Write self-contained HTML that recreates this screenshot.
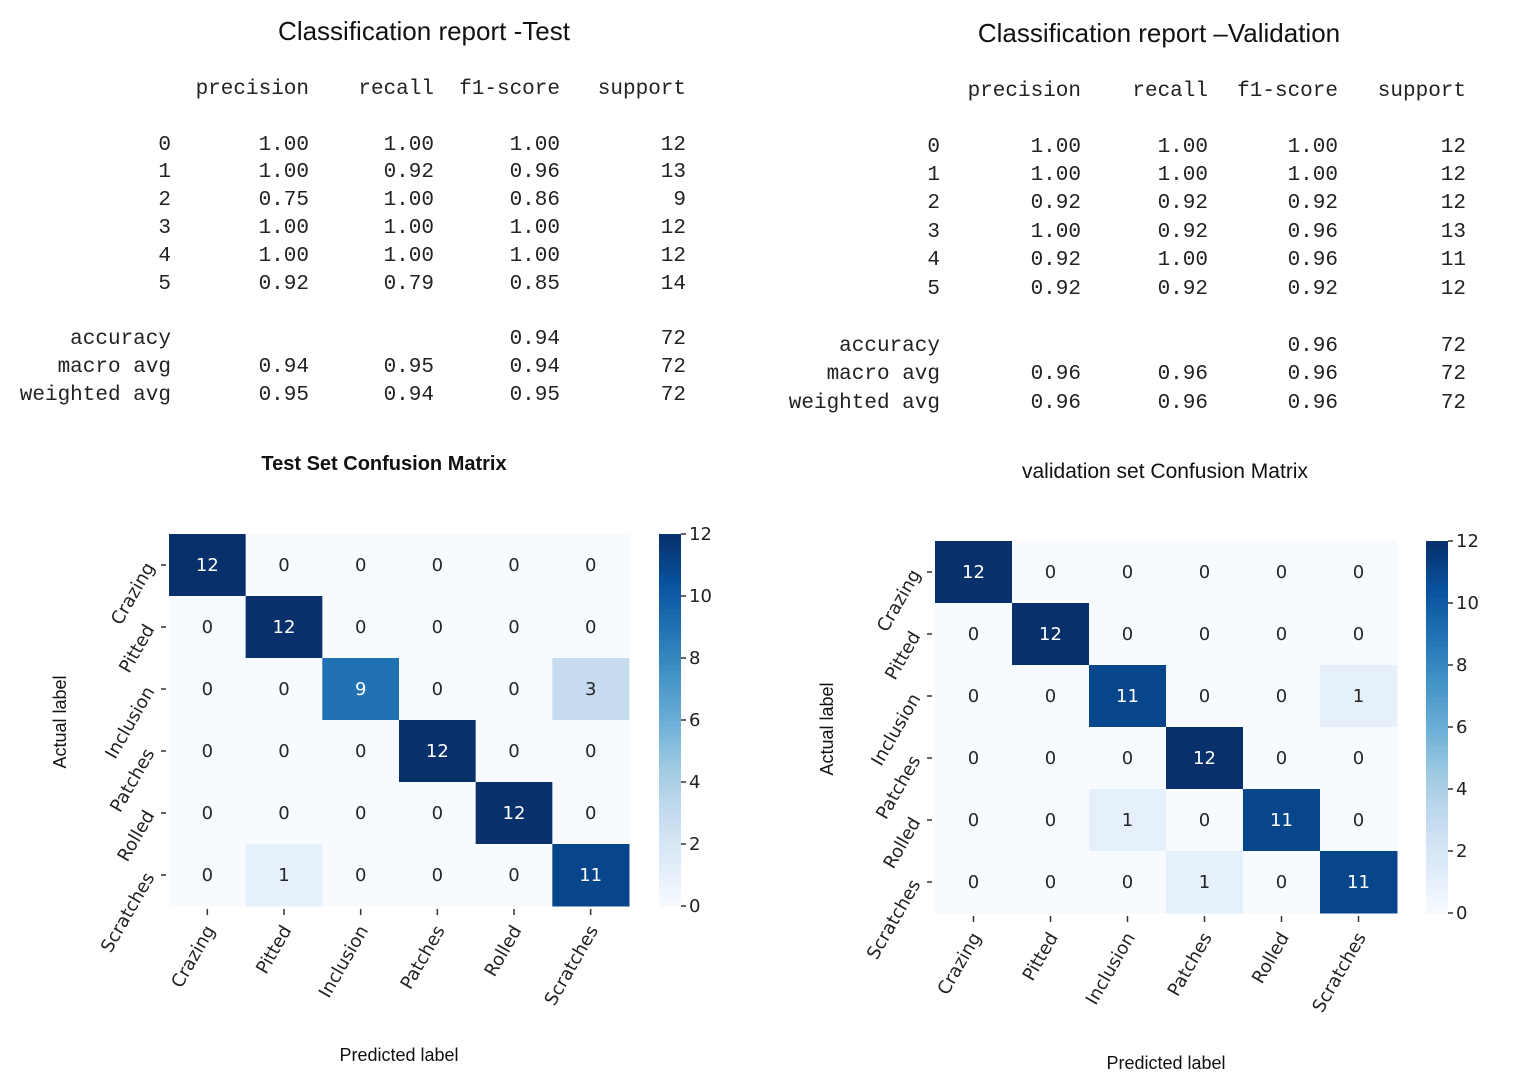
<!DOCTYPE html>
<html><head><meta charset="utf-8"><style>
html,body{margin:0;padding:0;background:#fff}
svg{display:block}
.mono{font-family:"Liberation Mono","DejaVu Sans Mono",monospace;font-size:21px;fill:#222}
.sans{font-family:"Liberation Sans","DejaVu Sans",sans-serif;fill:#111}
.tick{font-family:"DejaVu Sans","Liberation Sans",sans-serif;font-size:18px;fill:#222}
</style></head><body>
<svg id="root" width="1534" height="1087" viewBox="0 0 1534 1087">
<text class="sans" x="424" y="40" font-size="26" text-anchor="middle">Classification report -Test</text>
<text class="sans" x="1159" y="42" font-size="26" text-anchor="middle">Classification report –Validation</text>
<text class="sans" x="384" y="470" font-size="20" font-weight="bold" text-anchor="middle">Test Set Confusion  Matrix</text>
<text class="sans" x="1165" y="478" font-size="21" text-anchor="middle">validation set Confusion Matrix</text>
<g id="tables"></g>
<g id="charts"></g>
</svg>
<script>
const classes = ["Crazing","Pitted","Inclusion","Patches","Rolled","Scratches"];
const testMatrix = [[12,0,0,0,0,0],[0,12,0,0,0,0],[0,0,9,0,0,3],[0,0,0,12,0,0],[0,0,0,0,12,0],[0,1,0,0,0,11]];
const valMatrix = [[12,0,0,0,0,0],[0,12,0,0,0,0],[0,0,11,0,0,1],[0,0,0,12,0,0],[0,0,1,0,11,0],[0,0,0,1,0,11]];
const cbTicks = [0,2,4,6,8,10,12];
const reportHeader = ["precision","recall","f1-score","support"];
const testReport = [["0","1.00","1.00","1.00","12"],["1","1.00","0.92","0.96","13"],["2","0.75","1.00","0.86","9"],["3","1.00","1.00","1.00","12"],["4","1.00","1.00","1.00","12"],["5","0.92","0.79","0.85","14"],["accuracy","","","0.94","72"],["macro avg","0.94","0.95","0.94","72"],["weighted avg","0.95","0.94","0.95","72"]];
const valReport = [["0","1.00","1.00","1.00","12"],["1","1.00","1.00","1.00","12"],["2","0.92","0.92","0.92","12"],["3","1.00","0.92","0.96","13"],["4","0.92","1.00","0.96","11"],["5","0.92","0.92","0.92","12"],["accuracy","","","0.96","72"],["macro avg","0.96","0.96","0.96","72"],["weighted avg","0.96","0.96","0.96","72"]];

const NS="http://www.w3.org/2000/svg";
function mk(tag,attrs,parent){const e=document.createElementNS(NS,tag);for(const k in attrs)e.setAttribute(k,attrs[k]);parent.appendChild(e);return e;}
const blues=[[247,251,255],[222,235,247],[198,219,239],[158,202,225],[107,174,214],[66,146,198],[33,113,181],[8,81,156],[8,48,107]];
function blue(t){t=Math.max(0,Math.min(1,t))*(blues.length-1);const i=Math.min(Math.floor(t),blues.length-2),f=t-i;const a=blues[i],b=blues[i+1];return `rgb(${a.map((v,j)=>Math.round(v+(b[j]-v)*f)).join(",")})`;}

function drawReport(id,data,colX,headY,rowYs){
  const g=mk("g",{},document.getElementById("tables"));
  
  
  reportHeader.forEach((h,i)=>{const t=mk("text",{class:"mono",x:colX[i+1],y:headY,"text-anchor":"end"},g);t.textContent=h;
    
    });
  data.forEach((row,r)=>{row.forEach((v,c)=>{if(!v)return;const t=mk("text",{class:"mono",x:colX[c],y:rowYs[r],"text-anchor":"end"},g);t.textContent=v;
    
    });});
}
drawReport("test-report",testReport,[171,309,434,560,686],94,[150,177,205,233,261,289,344,372,400]);
drawReport("validation-report",valReport,[940,1081,1208,1338,1466],96,[152,180,208,237,265,294,351,379,408]);

function drawMatrix(name,m,x0,y0,w,h,cbx,actual,pred){
  const g=mk("g",{},document.getElementById("charts"));
  
  
  const n=classes.length,cw=w/n,ch=h/n,vmax=12;
  const xs=i=>x0+i*cw, ys=i=>y0+i*ch;
  m.forEach((row,r)=>row.forEach((v,c)=>{
    const rect=mk("rect",{x:xs(c),y:ys(r),width:cw+0.5,height:ch+0.5,fill:blue(v/vmax)},g);
    
    
    const t=mk("text",{class:"tick",x:xs(c)+cw/2,y:ys(r)+ch/2+6,"text-anchor":"middle"},g);
    t.style.fill=v/vmax>0.5?"#fff":"#262626";t.textContent=v;
    
    
  }));
  classes.forEach((c,i)=>{
    const cy=ys(i)+ch/2, cx=xs(i)+cw/2;
    mk("line",{x1:x0-8,x2:x0-3,y1:cy,y2:cy,stroke:"#333","stroke-width":1.5},g);
    const ty=mk("text",{class:"tick",x:x0-14,y:cy+2,"text-anchor":"end",transform:`rotate(-60 ${x0-14} ${cy+2})`},g);
    ty.textContent=c;
    
    
    mk("line",{x1:cx,x2:cx,y1:y0+h+3,y2:y0+h+9,stroke:"#333","stroke-width":1.5},g);
    const tx=mk("text",{class:"tick",x:cx+8,y:y0+h+24,"text-anchor":"end",transform:`rotate(-60 ${cx+8} ${y0+h+24})`},g);
    tx.textContent=c;
    
    
  });
  const steps=60, cbw=22;
  for(let i=0;i<steps;i++){
    mk("rect",{x:cbx,y:y0+h-(i+1)*h/steps,width:cbw,height:h/steps+0.6,fill:blue((i+0.5)/steps)},g);
  }
  const cbl=mk("rect",{x:cbx,y:y0,width:cbw,height:h,fill:"none"},g);
  
  
  cbTicks.forEach(v=>{
    const yy=y0+h-v/vmax*h;
    mk("line",{x1:cbx+cbw,x2:cbx+cbw+5,y1:yy,y2:yy,stroke:"#333","stroke-width":1.5},g);
    const t=mk("text",{class:"tick",x:cbx+cbw+8,y:yy+6},g);t.textContent=v;
    
    
  });
  const ay=mk("text",{class:"sans","font-size":18,x:actual[0],y:actual[1],"text-anchor":"middle",transform:`rotate(-90 ${actual[0]} ${actual[1]})`},g);
  ay.textContent="Actual label";
  
  
  const px=mk("text",{class:"sans","font-size":18,x:pred[0],y:pred[1],"text-anchor":"middle"},g);
  px.textContent="Predicted label";
  
  
}
drawMatrix("test-confusion-matrix",testMatrix,169,534,460,372,659,[66,722],[399,1061]);
drawMatrix("validation-confusion-matrix",valMatrix,935,541,462,372,1426,[833,729],[1166,1069]);
</script>
</body></html>
